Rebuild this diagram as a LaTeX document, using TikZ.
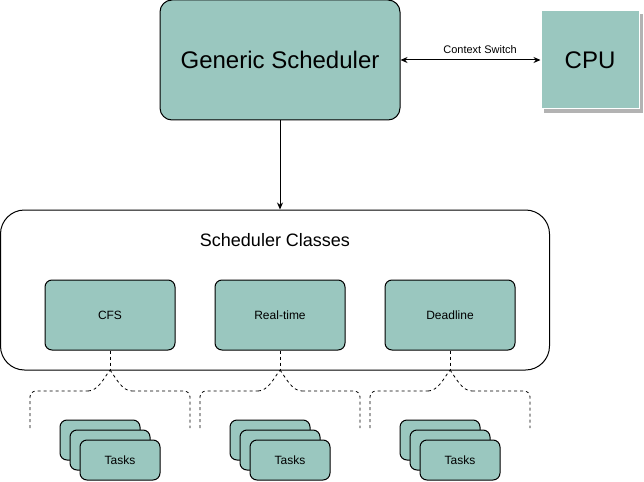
\documentclass[tikz,border=0pt]{standalone}
\usepackage{fontspec}
\setmainfont{Liberation Sans}
\usetikzlibrary{arrows.meta}
\definecolor{teal1}{HTML}{9AC7BF}
\definecolor{shadowgrey}{HTML}{B3B3B3}
\tikzset{
  box/.style={draw=black, line width=1pt, fill=teal1, rounded corners=7pt, inner sep=0pt, minimum width=130pt, minimum height=70pt, font=\fontsize{12pt}{14pt}\selectfont},
  taskbox/.style={draw=black, line width=1pt, fill=teal1, rounded corners=7pt, inner sep=0pt, minimum width=80pt, minimum height=40pt, font=\fontsize{12pt}{14pt}\selectfont},
  bracedash/.style={draw=black, line width=0.8pt, dash pattern=on 3pt off 3pt},
  conn/.style={draw=black, line width=1pt, -{Stealth[length=7pt,width=6pt]}},
}
\begin{document}
\begin{tikzpicture}[x=1pt,y=-1pt]
\useasboundingbox (0,0) rectangle (644,481);
% Generic scheduler
\node[draw=black, line width=1pt, fill=teal1, rounded corners=12pt, minimum width=240pt, minimum height=120pt, inner sep=0pt, font=\fontsize{24pt}{28pt}\selectfont] (gs) at (280,60) {Generic Scheduler};
% CPU with shadow
\fill[shadowgrey] (544,14) rectangle (643,113);
\node[draw=white, line width=1pt, fill=teal1, minimum width=98pt, minimum height=98pt, inner sep=0pt, font=\fontsize{24pt}{28pt}\selectfont] (cpu) at (590,60) {CPU};
% context switch
\draw[line width=1pt, {Stealth[length=7pt,width=6pt]}-{Stealth[length=7pt,width=6pt]}] (gs.east) -- (cpu.west);
\node[font=\fontsize{11pt}{13pt}\selectfont] (cs) at (480,50) {Context Switch};
% container
\node[draw=black, line width=1pt, fill=white, rounded corners=24pt, minimum width=549pt, minimum height=160pt, inner sep=0pt] (sc) at (275,290) {};
\node[font=\fontsize{18pt}{21pt}\selectfont] (sct) at (275,240) {Scheduler Classes};
\draw[conn] (gs.south) -- (gs.south |- sc.north);
% classes
\node[box] (cfs) at (110,315) {CFS};
\node[box] (rt) at (280,315) {Real-time};
\node[box] (dl) at (450,315) {Deadline};
% braces and task stacks
\foreach \n/\cx in {cfs/110, rt/280, dl/450} {
  \coordinate (\n-v) at (\cx,370);
  \draw[bracedash] (\n.south) -- (\n-v);
  \draw[bracedash, rounded corners=6pt] (\cx-80,428) -- (\cx-80,391) -- (\cx-22,391);
  \draw[bracedash] (\cx-22,391) .. controls (\cx-12,391) and (\cx-6,378) .. (\n-v);
  \draw[bracedash] (\n-v) .. controls (\cx+6,378) and (\cx+12,391) .. (\cx+22,391);
  \draw[bracedash, rounded corners=6pt] (\cx+22,391) -- (\cx+80,391) -- (\cx+80,428);
  \node[taskbox] (\n-t1) at (\cx-10,440) {};
  \node[taskbox] (\n-t2) at (\cx,450) {};
  \node[taskbox] (\n-t3) at (\cx+10,460) {Tasks};
}
\end{tikzpicture}
\end{document}
